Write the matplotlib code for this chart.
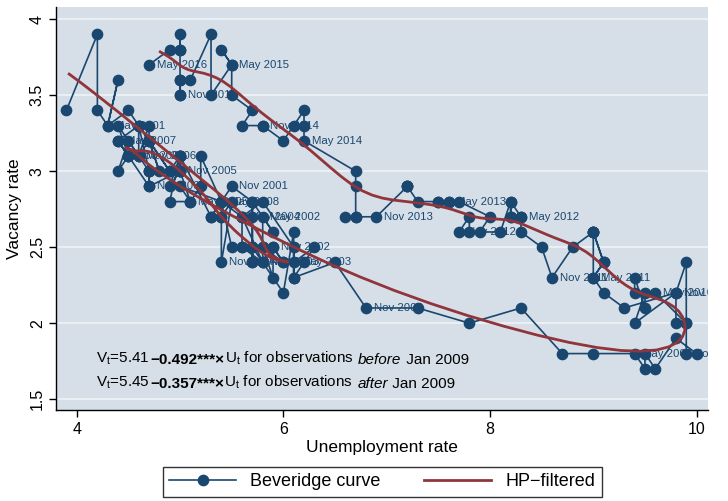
import numpy as np
import matplotlib
matplotlib.use("Agg")
import matplotlib.pyplot as plt
from matplotlib import font_manager
from matplotlib.lines import Line2D

# Monthly US unemployment rate (U) and job vacancy rate (V), Dec 2000 - May 2016
unemp = [3.9,
         4.2, 4.2, 4.3, 4.4, 4.3, 4.5, 4.6, 4.9, 5.0, 5.3, 5.5, 5.7,   # 2001
         5.7, 5.7, 5.7, 5.9, 5.8, 5.8, 5.8, 5.7, 5.7, 5.7, 5.9, 6.0,   # 2002
         5.8, 5.9, 5.9, 6.0, 6.1, 6.3, 6.2, 6.1, 6.1, 6.0, 5.8, 5.7,   # 2003
         5.7, 5.6, 5.8, 5.6, 5.6, 5.6, 5.5, 5.4, 5.4, 5.5, 5.4, 5.4,   # 2004
         5.3, 5.4, 5.2, 5.2, 5.1, 5.0, 5.0, 4.9, 5.0, 5.0, 5.0, 4.9,   # 2005
         4.7, 4.8, 4.7, 4.7, 4.6, 4.6, 4.7, 4.7, 4.5, 4.4, 4.5, 4.4,   # 2006
         4.6, 4.5, 4.4, 4.5, 4.4, 4.6, 4.7, 4.6, 4.7, 4.7, 4.7, 5.0,   # 2007
         5.0, 4.9, 5.1, 5.0, 5.4, 5.6, 5.8, 6.1, 6.1, 6.5, 6.8, 7.3,   # 2008
         7.8, 8.3, 8.7, 9.0, 9.4, 9.5, 9.5, 9.6, 9.8, 10.0, 9.9, 9.9,  # 2009
         9.8, 9.8, 9.9, 9.9, 9.6, 9.4, 9.4, 9.5, 9.5, 9.4, 9.8, 9.3,   # 2010
         9.1, 9.0, 9.0, 9.1, 9.0, 9.1, 9.0, 9.0, 9.0, 8.8, 8.6, 8.5,   # 2011
         8.3, 8.3, 8.2, 8.2, 8.3, 8.2, 8.2, 8.1, 7.8, 7.8, 7.7, 7.9,   # 2012
         8.0, 7.7, 7.5, 7.6, 7.6, 7.5, 7.3, 7.2, 7.2, 7.2, 6.9, 6.7,   # 2013
         6.6, 6.7, 6.7, 6.7, 6.2, 6.2, 6.2, 6.1, 6.0, 5.8, 5.8, 5.6,   # 2014
         5.7, 5.5, 5.5, 5.4, 5.5, 5.3, 5.3, 5.1, 5.0, 5.0, 5.0, 5.0,   # 2015
         5.0, 5.0, 5.0, 4.9, 4.7]                                      # 2016

vacancy = [3.4,
           3.9, 3.4, 3.3, 3.6, 3.3, 3.4, 3.3, 3.0, 3.1, 2.7, 2.9, 2.8,
           2.7, 2.5, 2.8, 2.6, 2.7, 2.5, 2.4, 2.5, 2.4, 2.5, 2.5, 2.4,
           2.5, 2.3, 2.5, 2.4, 2.4, 2.5, 2.4, 2.3, 2.6, 2.2, 2.4, 2.4,
           2.5, 2.5, 2.4, 2.7, 2.7, 2.5, 2.5, 2.8, 2.7, 2.8, 2.4, 2.7,
           2.7, 2.8, 3.1, 2.9, 2.8, 3.0, 3.1, 2.9, 3.0, 3.1, 3.0, 3.0,
           3.2, 3.0, 3.2, 3.3, 3.1, 3.3, 3.0, 2.9, 3.1, 3.2, 3.1, 3.3,
           3.1, 3.2, 3.0, 3.1, 3.2, 3.3, 3.2, 3.1, 3.0, 3.0, 2.9, 3.0,
           3.1, 2.8, 2.8, 2.9, 2.8, 2.7, 2.8, 2.5, 2.3, 2.4, 2.1, 2.1,
           2.0, 2.1, 1.8, 1.8, 1.8, 1.7, 1.8, 1.7, 1.9, 1.8, 1.8, 2.0,
           2.0, 2.2, 2.4, 2.0, 2.2, 2.2, 2.3, 2.1, 2.2, 2.0, 2.2, 2.1,
           2.2, 2.3, 2.6, 2.4, 2.3, 2.4, 2.6, 2.6, 2.6, 2.5, 2.3, 2.5,
           2.6, 2.7, 2.7, 2.8, 2.7, 2.7, 2.8, 2.6, 2.6, 2.7, 2.6, 2.6,
           2.7, 2.8, 2.8, 2.8, 2.8, 2.8, 2.8, 2.9, 2.9, 2.9, 2.7, 2.7,
           2.7, 2.7, 2.9, 3.0, 3.2, 3.3, 3.4, 3.3, 3.2, 3.3, 3.3, 3.3,
           3.4, 3.5, 3.7, 3.8, 3.7, 3.5, 3.9, 3.6, 3.6, 3.5, 3.5, 3.6,
           3.8, 3.9, 3.8, 3.8, 3.7]

month_names = ["Jan", "Feb", "Mar", "Apr", "May", "Jun",
               "Jul", "Aug", "Sep", "Oct", "Nov", "Dec"]
first_year, first_month = 2000, 12
label_months = ["May", "Nov"]

x_ticks = [4, 6, 8, 10]
y_ticks = [1.5, 2, 2.5, 3, 3.5, 4]
y_tick_labels = ["1.5", "2", "2.5", "3", "3.5", "4"]

eq_before = ("5.41", "\u22120.492***\u00d7", "before")
eq_after = ("5.45", "\u22120.357***\u00d7", "after")

hp_lambda = 100


def hp_trend(series, lam):
    y = np.asarray(series, dtype=float)
    n = len(y)
    d = np.zeros((n - 2, n))
    for i in range(n - 2):
        d[i, i:i + 3] = [1.0, -2.0, 1.0]
    return np.linalg.solve(np.eye(n) + lam * d.T @ d, y)


def pick_family(candidates):
    for name in candidates:
        try:
            font_manager.findfont(name, fallback_to_default=False)
            return name
        except Exception:
            continue
    return "DejaVu Sans"


main_font = pick_family(["Liberation Sans", "Arial", "DejaVu Sans"])
narrow_font = pick_family(["Liberation Sans Narrow", "Arial Narrow", main_font])
plt.rcParams["font.family"] = main_font

NAVY = "#1a476f"
MAROON = "#90353b"
PLOT_BG = "#d6dfe7"
GRID = "#eaf0f4"

fig = plt.figure(figsize=(7.28, 5.01), dpi=100)
ax = fig.add_axes([0.077, 0.182, 0.8955, 0.804])
ax.set_facecolor(PLOT_BG)

ax.set_xlim(3.80, 10.11)
ax.set_ylim(1.43, 4.08)

for yv in y_ticks:
    ax.axhline(yv, color=GRID, lw=1.4, zorder=1)

u = np.array(unemp)
v = np.array(vacancy)

ax.plot(u, v, color=NAVY, lw=1.2, marker="o", ms=7.4,
        markerfacecolor=NAVY, markeredgecolor=NAVY, zorder=3,
        label="Beveridge curve")

# May / November date labels
for i, (uu, vv) in enumerate(zip(u, v)):
    m = (first_month - 1 + i) % 12
    yr = first_year + (first_month - 1 + i) // 12
    if month_names[m] in label_months:
        t = ax.annotate(f"{month_names[m]} {yr}", (uu, vv), xytext=(5.5, 0),
                        textcoords="offset points", fontsize=8.2, color=NAVY,
                        va="center", ha="left", zorder=2, clip_on=True)
        t.set_clip_path(ax.patch)

ax.plot(hp_trend(u, hp_lambda), hp_trend(v, hp_lambda), color=MAROON,
        lw=2.0, zorder=4, label="HP\u2212filtered")


# Regression equations
def equation(x, y, const, slope, period):
    fs = 11.0
    pieces = [
        (f"V$_\\mathregular{{t}}$={const} ", "normal", "normal"),
        (slope, "bold", "normal"),
        (f"U$_\\mathregular{{t}}$ for observations  ", "normal", "normal"),
        (period, "normal", "italic"),
        (" Jan 2009", "normal", "normal"),
    ]
    prev = None
    for text, weight, style in pieces:
        kw = dict(fontsize=fs, family=narrow_font, fontweight=weight,
                  fontstyle=style, color="black", zorder=5)
        if prev is None:
            prev = ax.text(x, y, text, transform=ax.transData,
                           va="bottom", ha="left", **kw)
        else:
            prev = ax.annotate(text, xy=(1, 0), xycoords=prev,
                               va="bottom", ha="left", **kw)


equation(4.19, 1.712, *eq_before)
equation(4.185, 1.552, *eq_after)

ax.set_xticks(x_ticks)
ax.set_xticklabels([str(t) for t in x_ticks])
ax.set_yticks(y_ticks)
ax.set_yticklabels(y_tick_labels, rotation=90, va="center")
ax.tick_params(axis="both", direction="out", length=5, width=1,
               labelsize=11.5, color="black")
ax.tick_params(axis="x", pad=4)
ax.tick_params(axis="y", pad=3)

for side in ["top", "right"]:
    ax.spines[side].set_visible(False)
for side in ["left", "bottom"]:
    ax.spines[side].set_color("black")
    ax.spines[side].set_linewidth(1.0)

ax.set_xlabel("Unemployment rate", fontsize=12.5, labelpad=2)
ax.set_ylabel("Vacancy rate", fontsize=12.5, labelpad=6)

handles = [
    Line2D([], [], color=NAVY, lw=1.2, marker="o", ms=7.4),
    Line2D([], [], color=MAROON, lw=2.0),
]
leg = fig.legend(handles, ["Beveridge curve", "HP\u2212filtered"],
                 loc="upper center", bbox_to_anchor=(0.525, 1 - 458 / 501),
                 ncol=2, fontsize=13, frameon=True, fancybox=False,
                 edgecolor="black", handlelength=3.7, columnspacing=2.4,
                 borderpad=0.35, handletextpad=0.8)
leg.get_frame().set_linewidth(1.0)

fig.savefig("out.png", dpi=100, facecolor="white")
